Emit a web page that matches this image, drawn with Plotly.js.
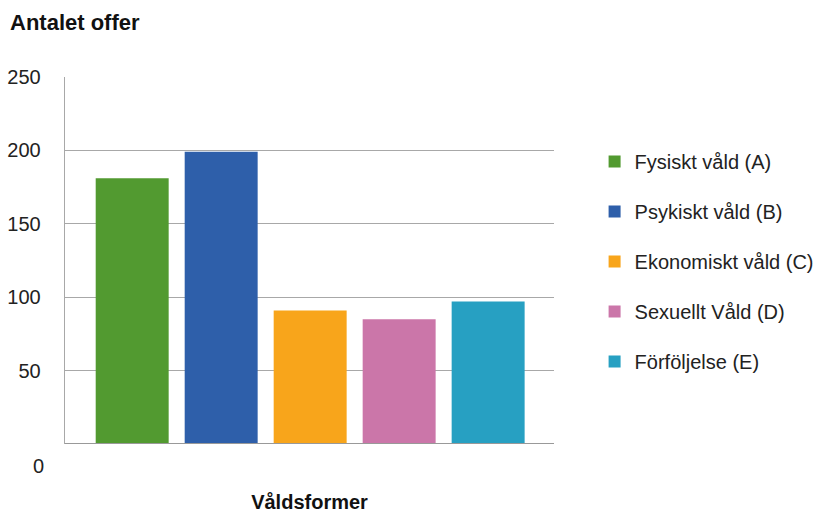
<!DOCTYPE html>
<html>
<head>
<meta charset="utf-8">
<script src="https://cdn.plot.ly/plotly-3.0.1.min.js"></script>
<style>html,body{margin:0;padding:0;background:#fff;}#chart{width:819px;height:513px;}</style>
</head>
<body>
<div id="chart"></div>
<script>
const categories = ["Fysiskt våld (A)", "Psykiskt våld (B)", "Ekonomiskt våld (C)", "Sexuellt Våld (D)", "Förföljelse (E)"];
const values = [181, 199, 91, 85, 97];
const colors = ["#529a30", "#2e5faa", "#f8a51b", "#cb76a9", "#27a0c2"];
const yTickVals = [50, 100, 150, 200, 250];
const yTickText = ["50", "100", "150", "200", "250"];
const zeroLabel = "0";

const traces = categories.map((c, i) => ({
  type: "bar",
  x: [c],
  y: [values[i]],
  name: c,
  legendgroup: "g" + i,
  marker: { color: colors[i], line: { width: 0 } },
  hoverinfo: "x+y"
}));

const layout = {
  width: 819, height: 513,
  margin: { l: 65, r: 265, t: 77, b: 69 },
  paper_bgcolor: "#fff", plot_bgcolor: "#fff",
  font: { family: "Liberation Sans, Arial, sans-serif", color: "#222", size: 20 },
  barmode: "overlay",
  bargap: 0.18,
  showlegend: true,
  legend: {
    xref: "container", yref: "container",
    x: 0.726, y: 1 - 142 / 513, xanchor: "left", yanchor: "top",
    traceorder: "grouped", tracegroupgap: 21,
    font: { size: 20, color: "#222" },
    itemwidth: 30
  },
  title: {
    text: "<b>Antalet offer</b>",
    xref: "container", yref: "container",
    x: 10 / 819, xanchor: "left",
    y: 1 - 22 / 513, yanchor: "middle",
    font: { size: 22, color: "#111" }
  },
  xaxis: {
    type: "category",
    range: [-0.755, 4.74],
    showticklabels: false,
    ticks: "",
    showgrid: false,
    zeroline: false,
    showline: false,
    title: { text: "<b>Våldsformer</b>", font: { size: 20, color: "#111" }, standoff: 50 }
  },
  yaxis: {
    range: [0, 250],
    tickvals: yTickVals,
    ticktext: yTickText,
    tickfont: { size: 20, color: "#222" },
    ticks: "",
    ticklabelstandoff: 19,
    showgrid: true,
    gridcolor: "#a8a8a8",
    gridwidth: 1.3,
    zeroline: false,
    showline: true,
    linecolor: "#a8a8a8",
    linewidth: 1.3
  },
  shapes: [{
    type: "line", xref: "paper", yref: "y",
    x0: 0, x1: 1, y0: 0, y1: 0,
    line: { color: "#999", width: 2 }
  }],
  annotations: [{
    text: zeroLabel, xref: "paper", yref: "y",
    x: 0, y: 0, xanchor: "right", yanchor: "middle",
    xshift: -19, yshift: -22, showarrow: false,
    font: { size: 20, color: "#222" }
  }]
};

Plotly.newPlot("chart", traces, layout, { staticPlot: true, displayModeBar: false });
</script>
</body>
</html>
